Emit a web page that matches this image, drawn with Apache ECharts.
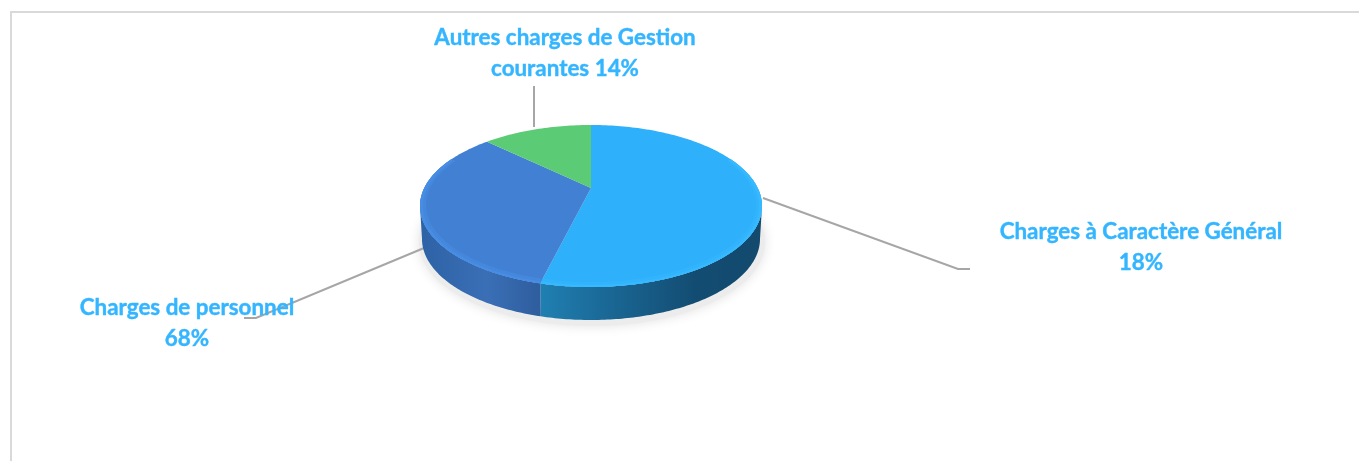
<!DOCTYPE html>
<html>
<head>
<meta charset="utf-8">
<title>Charges</title>
<style>
    html, body {margin: 0; padding: 0; background: #fff;}
    #charts {width: 1359px; height: 461px;}
</style>
<script src="https://cdn.jsdelivr.net/npm/echarts@6/dist/echarts.min.js"></script>
</head>
<body>
<div id="charts"></div>
<script type="text/javascript">
    // drawn slice sizes and the percentages printed on the labels
    var categories = ['Charges à Caractère Général', 'Charges de personnel', 'Autres charges de Gestion\ncourantes'];
    var sliceValues = [54.8, 34.8, 10.4];
    var labelPercents = [18, 68, 14];
    var labelJoin = ['\n', '\n', ' '];

    var faceColors = ['#2eb0fb', '#4280d3', '#5bcb75'];
    var rimColors = ['#36b9ff', '#478de4', '#5bcb75'];
    var rimSoftColors = ['#32b4fd', '#4487db', '#5bcb75'];
    var wallStops = [
        [[0, '#2080b2'], [0.3, '#1a6896'], [0.7, '#134c72'], [1, '#134a6e']],
        [[0, '#2d62a6'], [0.55, '#3a6fb6'], [1, '#2f5d9e']],
        [[0, '#3f9a58'], [1, '#3f9a58']]
    ];

    // 3d look of the pie
    var cx = 591, cy = 206, rx = 171, ry = 81, depth = 33, apexY = 188;

    var total = sliceValues.reduce(function (a, b) { return a + b; }, 0);

    function arc(x0, y0, a, b, from, to) {
        var pts = [];
        var n = Math.max(2, Math.ceil(to - from));
        for (var i = 0; i <= n; i++) {
            var t = (from + (to - from) * i / n) * Math.PI / 180;
            pts.push([x0 + a * Math.sin(t), y0 - b * Math.cos(t)]);
        }
        return pts;
    }

    function renderSlice(params, api) {
        var i = params.dataIndex;
        var start = 0;
        for (var k = 0; k < i; k++) start += sliceValues[k];
        var from = start / total * 360;
        var to = (start + api.value(0)) / total * 360;
        var children = [];

        // side wall, only on the front half
        var wFrom = Math.max(from, 90), wTo = Math.min(to, 270);
        if (wTo > wFrom) {
            var top = arc(cx, cy, rx, ry, wFrom, wTo);
            var bottom = arc(cx, cy + depth, rx - 2, ry, wFrom, wTo).reverse();
            var xs = top.concat(bottom).map(function (p) { return p[0]; });
            children.push({
                type: 'polygon',
                shape: {points: top.concat(bottom)},
                style: {
                    fill: new echarts.graphic.LinearGradient(
                        Math.min.apply(null, xs), 0, Math.max.apply(null, xs), 0,
                        wallStops[i].map(function (s) { return {offset: s[0], color: s[1]}; }),
                        true
                    )
                }
            });
        }

        // top face
        children.push({
            type: 'polygon',
            shape: {points: [[cx, apexY]].concat(arc(cx, cy, rx, ry, from, to))},
            style: {fill: faceColors[i]}
        });

        // lighter bevel along the front edge, two steps so it stays soft
        var rFrom = Math.max(from, 55), rTo = Math.min(to, 305);
        if (rTo > rFrom) {
            children.push({
                type: 'polygon',
                shape: {points: arc(cx, cy, rx, ry, rFrom, rTo).concat(arc(cx, cy - 1, rx - 6, ry - 4, rFrom, rTo).reverse())},
                style: {fill: rimSoftColors[i]}
            });
            children.push({
                type: 'polygon',
                shape: {points: arc(cx, cy, rx, ry, rFrom, rTo).concat(arc(cx, cy, rx - 3, ry - 2, rFrom, rTo).reverse())},
                style: {fill: rimColors[i]}
            });
        }
        return {type: 'group', children: children};
    }

    // leader lines and text, order follows categories
    var leaders = [
        [[763, 198], [958, 269], [970, 269]],
        [[424, 248], [256, 318], [244, 318]],
        [[534, 127], [534, 86]]
    ];
    var labelPos = [[1141, 247], [187, 323], [565, 53]];

    function renderLeader(params, api) {
        return {
            type: 'polyline',
            shape: {points: leaders[params.dataIndex]},
            style: {stroke: '#a6a6a6', lineWidth: 2, fill: null}
        };
    }

    function renderLabel(params, api) {
        var i = params.dataIndex;
        return {
            type: 'text',
            x: labelPos[i][0],
            y: labelPos[i][1],
            style: {
                text: categories[i] + labelJoin[i] + labelPercents[i] + '%',
                fill: '#33b5ff',
                font: 'bold 22.4px Lato',
                lineHeight: 31,
                align: 'center',
                verticalAlign: 'middle',
                stroke: '#33b5ff',
                lineWidth: 0.4
            }
        };
    }

    var rows = sliceValues.map(function (v) { return [v]; });

    var MYCHART = echarts.init(document.getElementById('charts'));
    var option = {
        backgroundColor: '#fff',
        animation: false,
        graphic: [
            {type: 'line', shape: {x1: 10, y1: 12, x2: 1359, y2: 12}, style: {stroke: '#d9d9d9', lineWidth: 2}},
            {type: 'line', shape: {x1: 11, y1: 12, x2: 11, y2: 461}, style: {stroke: '#d9d9d9', lineWidth: 2}}
        ],
        series: [
            {
                // soft shadow under the pie
                type: 'custom',
                coordinateSystem: 'none',
                silent: true,
                z: 1,
                data: [[1]],
                renderItem: function () {
                    return {
                        type: 'polygon',
                        shape: {points: arc(cx + 1, cy + depth + 3, rx + 2, ry + 3, 0, 360)},
                        style: {fill: '#ececec', shadowBlur: 12, shadowColor: '#e2e2e2'}
                    };
                }
            },
            {type: 'custom', coordinateSystem: 'none', silent: true, z: 2, data: rows, renderItem: renderLeader},
            {type: 'custom', coordinateSystem: 'none', z: 3, data: rows, renderItem: renderSlice},
            {type: 'custom', coordinateSystem: 'none', silent: true, z: 4, data: rows, renderItem: renderLabel}
        ]
    };
    MYCHART.setOption(option);
</script>
</body>
</html>
